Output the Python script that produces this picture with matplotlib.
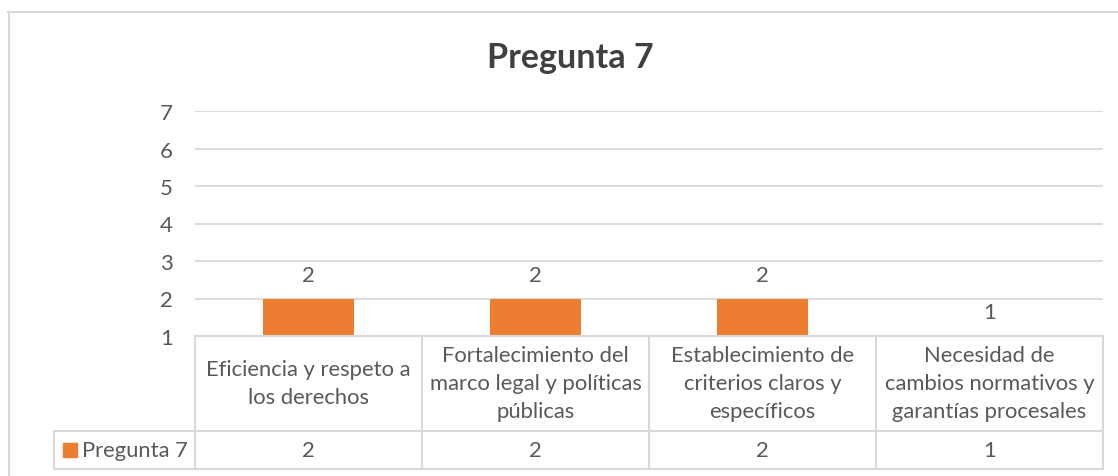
import matplotlib
matplotlib.use("Agg")
import matplotlib.pyplot as plt
import numpy as np

categories = ["Eficiencia y respeto a\nlos derechos",
              "Fortalecimiento del\nmarco legal y políticas\npúblicas",
              "Establecimiento de\ncriterios claros y\nespecíficos",
              "Necesidad de\ncambios normativos y\ngarantías procesales"]
values = [2, 2, 2, 1]
series_name = "Pregunta 7"
yticks = [1, 2, 3, 4, 5, 6, 7]

ORANGE = "#ED7D31"; TXT = "#595959"; GRID = "#D9D9D9"
plt.rcParams["font.family"] = ["Lato", "DejaVu Sans"]

W, H = 1118, 477
fig = plt.figure(figsize=(W / 100, H / 100), dpi=100)

def box(x0, y0, x1, y1):
    # pixel box (top-left origin) -> figure fraction rect
    return [x0 / W, 1 - y1 / H, (x1 - x0) / W, (y1 - y0) / H]

# main plot area
ax = fig.add_axes(box(195, 112, 1103, 337))
x = np.arange(len(values))
ax.bar(x, values, width=0.4, color=ORANGE, zorder=3)
ax.set_xlim(-0.5, len(values) - 0.5)
ax.set_ylim(yticks[0], yticks[-1])
ax.set_yticks(yticks)
ax.set_xticks([])
ax.tick_params(axis="y", length=0, pad=16, labelsize=16, labelcolor=TXT)
ax.grid(axis="y", color=GRID, lw=1.3)
ax.set_axisbelow(True)
for s in ax.spines.values():
    s.set_visible(False)
for xi, v in zip(x, values):
    ax.annotate(str(v), (xi, v), xytext=(0, 17), textcoords="offset points",
                ha="center", va="center", fontsize=16, color=TXT, annotation_clip=False)

# data table under the plot
lab_w = (195 - 54) / ((1103 - 195) / len(values))
tx = fig.add_axes(box(54, 337, 1103, 470))
tx.set_xlim(-0.5 - lab_w, len(values) - 0.5)
tx.set_ylim(0, 1)
tx.axis("off")
mid = (470 - 432) / (470 - 337)
lk = dict(color=GRID, lw=1.5, clip_on=False)
tx.plot([-0.5, len(values) - 0.5], [1, 1], **lk)
tx.plot([-0.5 - lab_w, len(values) - 0.5], [mid, mid], **lk)
tx.plot([-0.5 - lab_w, len(values) - 0.5], [0, 0], **lk)
tx.plot([-0.5 - lab_w] * 2, [0, mid], **lk)
for b in np.arange(len(values) + 1) - 0.5:
    tx.plot([b, b], [0, 1], **lk)
for xi, c, v in zip(x, categories, values):
    tx.text(xi, (1 + mid) / 2, c, ha="center", va="center", fontsize=15.8,
            color=TXT, linespacing=1.5)
    tx.text(xi, mid / 2, str(v), ha="center", va="center", fontsize=15.8, color=TXT)
fig.patches.append(plt.Rectangle((63 / W, 1 - 458 / H), 14 / W, 14 / H,
                                 transform=fig.transFigure, color=ORANGE))
fig.text(82 / W, 1 - 451 / H, series_name, ha="left", va="center",
         fontsize=15.8, color=TXT)

# title and outer frame
fig.text(570 / W, 1 - 58 / H, "Pregunta 7", ha="center", va="center",
         fontsize=24.5, fontweight="bold", color="#404040")
fig.add_artist(plt.Line2D([8 / W, 1], [1 - 13 / H] * 2, color=GRID, lw=1.5))
fig.add_artist(plt.Line2D([9 / W] * 2, [0, 1 - 13 / H], color=GRID, lw=1.5))

fig.savefig("out.png", facecolor="white")
